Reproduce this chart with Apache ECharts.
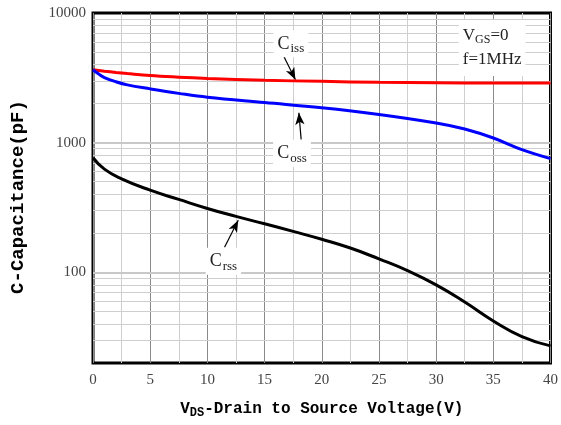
<!DOCTYPE html>
<html><head><meta charset="utf-8">
<script src="https://cdn.jsdelivr.net/npm/echarts@6/dist/echarts.min.js"></script>
<style>html,body{margin:0;padding:0;background:#fff}#c{width:561px;height:425px}</style>
</head><body><div id="c"></div>
<script>
const vdsCiss = [0, 1, 2, 3, 5, 7.5, 10, 15, 20, 25, 30, 35, 40];
const ciss    = [3650, 3560, 3480, 3410, 3290, 3200, 3130, 3030, 2970, 2920, 2900, 2885, 2880];
const vdsCoss = [0, 0.5, 1, 2, 3, 5, 7.5, 10, 15, 20, 25, 30, 32.5, 35, 37.5, 40];
const coss    = [3650, 3380, 3180, 2950, 2790, 2600, 2400, 2240, 2040, 1860, 1650, 1418, 1274, 1086, 883, 753];
const vdsCrss = [0, 1, 2.5, 5, 7.5, 10, 12.5, 15, 17.5, 20, 22.5, 25, 27.5, 30, 32.5, 35, 37.5, 40];
const crss    = [765, 625, 526, 430, 365, 311, 270, 237, 207, 180, 154, 127, 103, 80, 59, 42.2, 32, 27.1];
const xTicks = [0, 5, 10, 15, 20, 25, 30, 35, 40];
const yTicks = [100, 1000, 10000];
const yMinorGrid = [30, 40, 50, 60, 70, 80, 90, 200, 300, 400, 500, 600, 700, 800, 900, 2000, 3000, 4000, 5000, 6000, 7000, 8000, 9000];
const yDecadeGrid = [100, 1000];

const zip = (xs, ys) => xs.map((x, i) => [x, ys[i]]);
const chart = echarts.init(document.getElementById('c'));
const serif = '"Liberation Serif", "DejaVu Serif", serif';
const mono = '"Liberation Mono", "DejaVu Sans Mono", monospace';

function annot(x, y, main, sub) {
  return {
    coord: [x, y], symbol: 'rect', symbolSize: 1, value: 0,
    itemStyle: { color: 'rgba(0,0,0,0)' },
    label: {
      show: true, position: 'inside',
      formatter: '{m|' + main + '}{s|' + sub + '}',
      backgroundColor: '#fff', padding: [2, 4, 2, 4],
      rich: {
        m: { fontFamily: serif, fontSize: 18, color: '#222' },
        s: { fontFamily: serif, fontSize: 13, color: '#222', padding: [10, 0, 0, 1] }
      }
    }
  };
}
function arrow(x1, y1, x2, y2) {
  return [{ coord: [x1, y1] }, { coord: [x2, y2] }];
}

chart.setOption({
  animation: false,
  grid: { left: 93, right: 8, top: 13, bottom: 62, show: true, borderColor: '#000', borderWidth: 3, backgroundColor: 'transparent' },
  xAxis: {
    type: 'value', min: 0, max: 40, interval: 5,
    axisLine: { show: false }, axisTick: { show: false },
    axisLabel: { fontFamily: serif, fontSize: 15, color: '#444', margin: 10 },
    splitLine: { show: true, lineStyle: { color: '#8a8a8a', width: 1 } },
    minorTick: { show: false, splitNumber: 2 },
    minorSplitLine: { show: true, lineStyle: { color: '#cfcfcf', width: 1 } },
    name: '{v|V}{d|DS}{t|-Drain to Source Voltage(V)}',
    nameLocation: 'middle', nameGap: 36,
    nameTextStyle: {
      rich: {
        v: { fontFamily: mono, fontWeight: 'bold', fontSize: 16, color: '#000' },
        d: { fontFamily: mono, fontWeight: 'bold', fontSize: 12, color: '#000', padding: [8, 0, 0, 0] },
        t: { fontFamily: mono, fontWeight: 'bold', fontSize: 16, color: '#000' }
      }
    }
  },
  yAxis: {
    type: 'log', logBase: 10, min: 20, max: 10000,
    axisLine: { show: false }, axisTick: { show: false },
    axisLabel: {
      fontFamily: serif, fontSize: 15, color: '#444', margin: 7,
      formatter: v => { const l = Math.log10(v); return Math.abs(l - Math.round(l)) < 1e-6 ? String(Math.round(v)) : ''; }
    },
    splitLine: { show: false },
    name: 'C-Capacitance(pF)', nameLocation: 'middle', nameGap: 65,
    nameTextStyle: { fontFamily: mono, fontWeight: 'bold', fontSize: 19, color: '#000', padding: [0, 18, 0, 0] }
  },
  series: [
    {
      type: 'line', data: [], silent: true, z: 1,
      markLine: {
        silent: true, symbol: 'none', label: { show: false }, animation: false,
        lineStyle: { color: '#cfcfcf', type: 'solid', width: 1 },
        data: yMinorGrid.map(v => ({ yAxis: v })).concat(yDecadeGrid.map(v => ({ yAxis: v, lineStyle: { width: 2, color: '#c8c8c8' } })))
      }
    },
    {
      name: 'Ciss', type: 'line', data: zip(vdsCiss, ciss), smooth: 0.4, showSymbol: false, z: 5,
      lineStyle: { color: '#ff0000', width: 3 },
      markPoint: { data: [annot(17.3, 5780, 'C', 'iss')], z: 10 },
      markLine: { silent: true, symbol: ['none', 'arrow'], symbolSize: [7, 12], label: { show: false },
        lineStyle: { color: '#000', type: 'solid', width: 1.2 }, data: [arrow(16.7, 4590, 17.7, 3060)] }
    },
    {
      name: 'Coss', type: 'line', data: zip(vdsCoss, coss), smooth: 0.4, showSymbol: false, z: 5,
      lineStyle: { color: '#0000ff', width: 3 },
      markPoint: { data: [annot(17.4, 830, 'C', 'oss')], z: 10 },
      markLine: { silent: true, symbol: ['none', 'arrow'], symbolSize: [7, 12], label: { show: false },
        lineStyle: { color: '#000', type: 'solid', width: 1.2 }, data: [arrow(18.2, 1055, 18.0, 1700)] }
    },
    {
      name: 'Crss', type: 'line', data: zip(vdsCrss, crss), smooth: 0.5, showSymbol: false, z: 5,
      lineStyle: { color: '#000', width: 3 },
      markPoint: { data: [annot(11.4, 122, 'C', 'rss')], z: 10 },
      markLine: { silent: true, symbol: ['none', 'arrow'], symbolSize: [7, 12], label: { show: false },
        lineStyle: { color: '#000', type: 'solid', width: 1.2 }, data: [arrow(11.5, 156, 12.7, 252)] }
    },
    {
      type: 'line', data: [], silent: true, z: 10,
      markPoint: {
        data: [{
          coord: [34.9, 5380], symbol: 'rect', symbolSize: 1, value: 0,
          itemStyle: { color: 'rgba(0,0,0,0)' },
          label: {
            show: true, position: 'inside', backgroundColor: '#fff', padding: [4, 4, 4, 4], lineHeight: 24, align: 'center',
            formatter: '{m|V}{s|GS}{m|=0}\n{m|f=1MHz}',
            rich: {
              m: { fontFamily: serif, fontSize: 17, color: '#222', lineHeight: 24, align: 'left' },
              s: { fontFamily: serif, fontSize: 12, color: '#222', padding: [8, 0, 0, 0], lineHeight: 24, align: 'left' }
            }
          }
        }]
      }
    }
  ]
});
</script></body></html>
